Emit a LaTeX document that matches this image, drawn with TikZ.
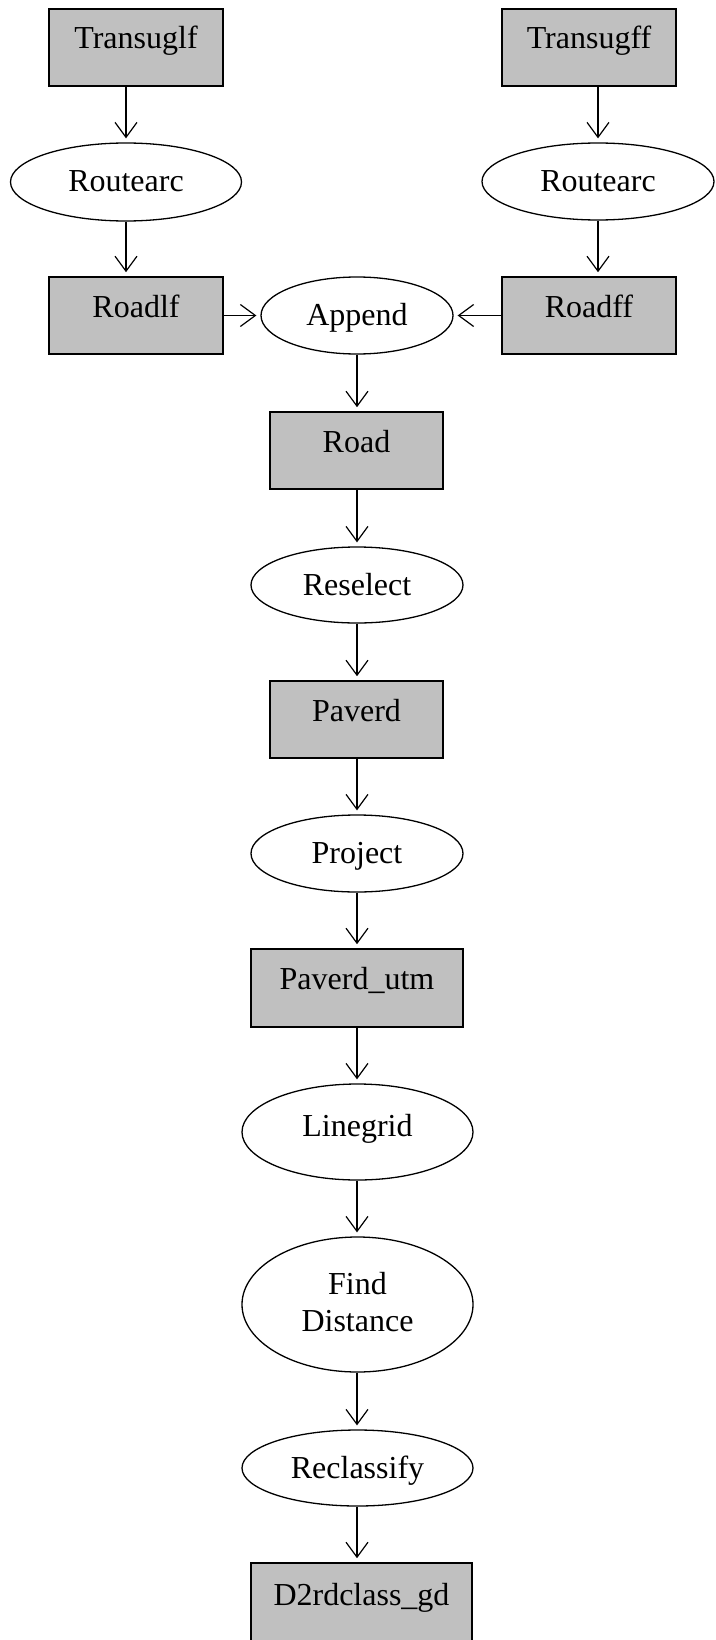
\documentclass[tikz,border=0pt]{standalone}
\usepackage{fontspec}
\setmainfont{Liberation Serif}
\usetikzlibrary{shapes.geometric,arrows.meta}
\definecolor{boxgray}{RGB}{192,192,192}
\begin{document}
\begin{tikzpicture}[x=1pt,y=-1pt,
  font=\fontsize{32}{37}\selectfont,
  databox/.style={draw, line width=1.6pt, fill=boxgray, rectangle, inner sep=0pt,
    minimum width=174pt, minimum height=77pt, text height=40pt, text depth=37pt},
  proc/.style={draw, line width=1.3pt, fill=white, ellipse, inner sep=0pt,
    text height=21pt, text depth=1pt},
  arr/.style={line width=1.2pt, -{Straight Barb[length=15pt,width=22pt]}, shorten >=4pt}]
\useasboundingbox[fill=white] (0,0) rectangle (715,1640);

\node[databox] (tl) at (136,47.5) {Transuglf};
\node[databox] (tr) at (589,47.5) {Transugff};
\node[proc, minimum width=231pt, minimum height=78pt] (rl) at (126,182) {Routearc};
\node[proc, minimum width=232pt, minimum height=77pt] (rr) at (598,181.5) {Routearc};
\node[databox] (bl) at (136,315.5) {Roadlf};
\node[proc, minimum width=192pt, minimum height=77pt] (ap) at (357,315.5) {Append};
\node[databox] (br) at (589,315.5) {Roadff};
\node[databox, minimum width=173pt] (road) at (356.5,450.5) {Road};
\node[proc, minimum width=212pt, minimum height=76pt] (rs) at (357,585) {Reselect};
\node[databox, minimum width=173pt] (pv) at (356.5,719.5) {Paverd};
\node[proc, minimum width=212pt, minimum height=77pt] (pj) at (357,853.5) {Project};
\node[databox, minimum width=212pt, minimum height=78pt, text depth=38pt] (pu) at (357,988) {Paverd\_utm};
\node[proc, minimum width=231pt, minimum height=96pt, text depth=13pt] (lg) at (357.5,1132) {Linegrid};
\node[proc, minimum width=231pt, minimum height=135pt, align=center, text height=58pt, text depth=4pt] (fd) at (357.5,1304.5) {Find\\Distance};
\node[proc, minimum width=231pt, minimum height=76pt] (rc) at (357.5,1468) {Reclassify};
\node[databox, minimum width=221pt, minimum height=79pt, text height=42pt] (d2) at (361.5,1602.5) {D2rdclass\_gd};

\draw[arr] (tl.south -| rl) -- (rl.north);
\draw[arr] (rl.south) -- (bl.north -| rl);
\draw[arr] (tr.south -| rr) -- (rr.north);
\draw[arr] (rr.south) -- (br.north -| rr);
\draw[arr] (bl.east) -- (ap.west);
\draw[arr] (br.west) -- (ap.east);
\draw[arr] (ap.south) -- (road.north -| ap);
\draw[arr] (road.south -| rs) -- (rs.north);
\draw[arr] (rs.south) -- (pv.north -| rs);
\draw[arr] (pv.south -| pj) -- (pj.north);
\draw[arr] (pj.south) -- (pu.north);
\draw[arr] (pu.south) -- (lg.north -| pu);
\draw[arr] (lg.south -| pu) -- (fd.north -| pu);
\draw[arr] (fd.south -| pu) -- (rc.north -| pu);
\draw[arr] (rc.south -| pu) -- (d2.north -| pu);
\end{tikzpicture}
\end{document}
